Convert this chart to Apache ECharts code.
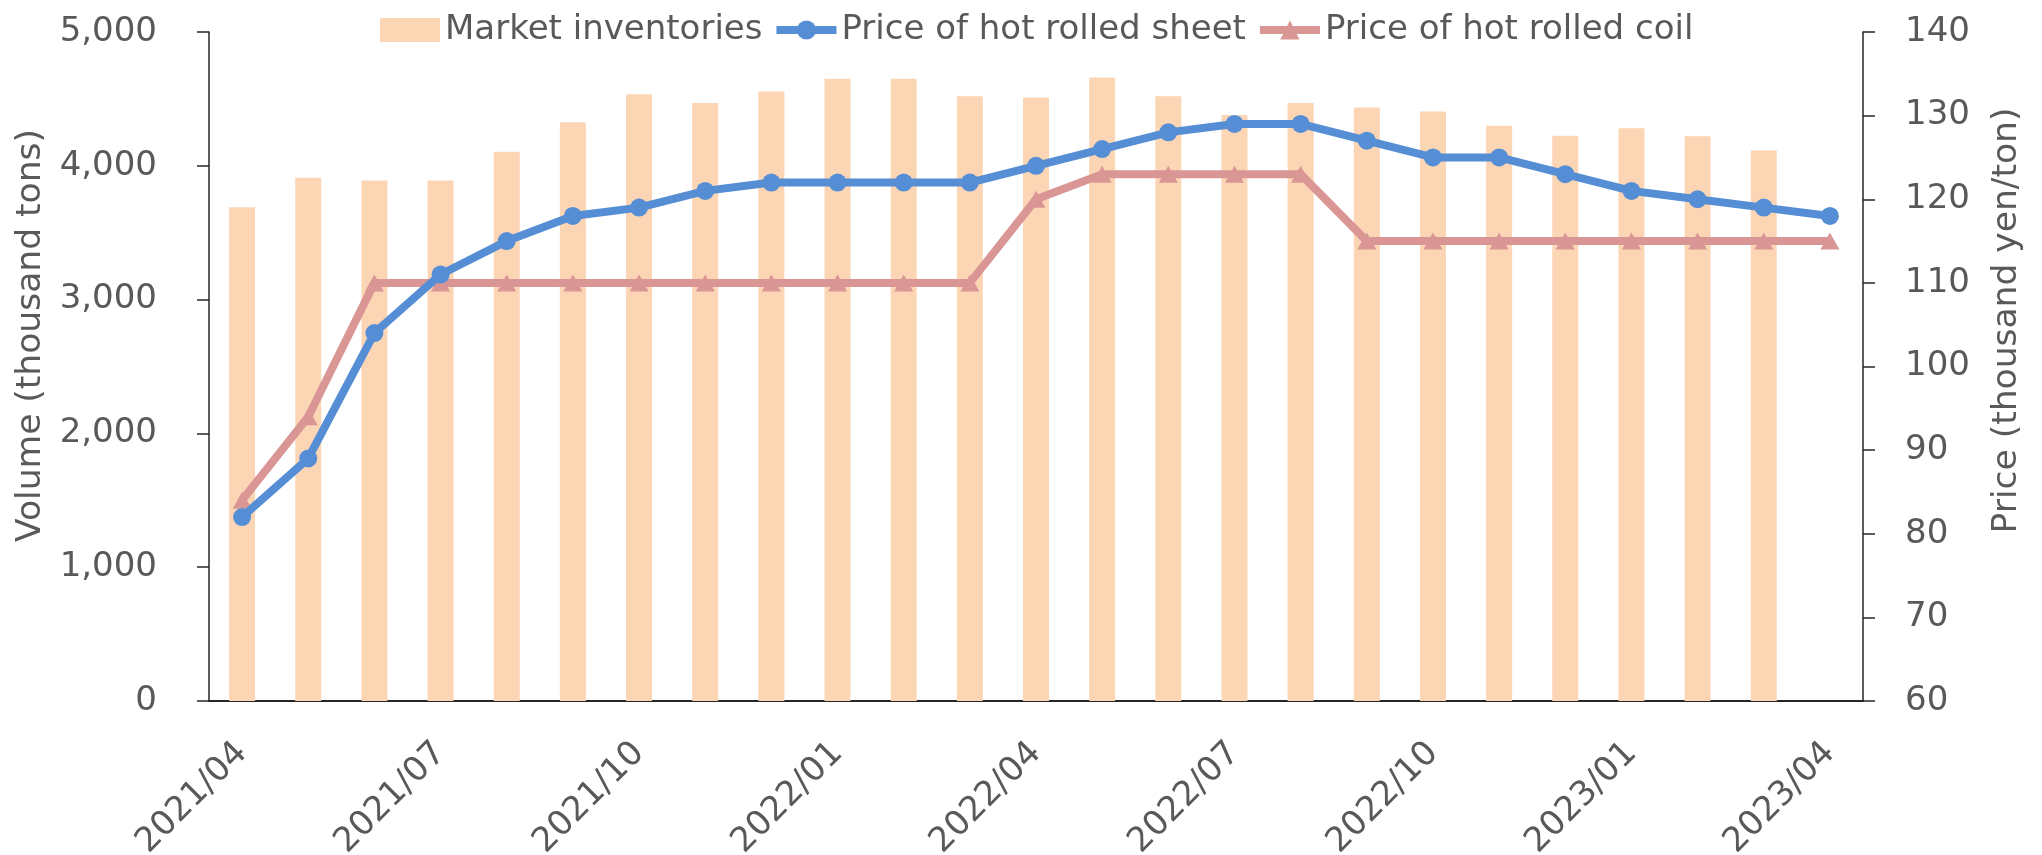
<!DOCTYPE html>
<html>
<head>
<meta charset="utf-8">
<script src="https://cdn.jsdelivr.net/npm/echarts@6/dist/echarts.min.js"></script>
<style>
html,body{margin:0;padding:0;background:#fff;}
#chart{width:2042px;height:855px;}
</style>
</head>
<body>
<div id="chart"></div>
<script>
const categories = ['2021/04','2021/05','2021/06','2021/07','2021/08','2021/09','2021/10','2021/11','2021/12',
  '2022/01','2022/02','2022/03','2022/04','2022/05','2022/06','2022/07','2022/08','2022/09','2022/10','2022/11','2022/12',
  '2023/01','2023/02','2023/03','2023/04'];
const inventories = [3690, 3910, 3890, 3890, 4105, 4325, 4535, 4470, 4555, 4650, 4650, 4520,
  4510, 4660, 4520, 4380, 4470, 4435, 4405, 4300, 4225, 4280, 4220, 4115, null];
const sheetPrice = [82, 89, 104, 111, 115, 118, 119, 121, 122, 122, 122, 122,
  124, 126, 128, 129, 129, 127, 125, 125, 123, 121, 120, 119, 118];
const coilPrice = [84, 94, 110, 110, 110, 110, 110, 110, 110, 110, 110, 110,
  120, 123, 123, 123, 123, 115, 115, 115, 115, 115, 115, 115, 115];
const leftTicks = {min: 0, max: 5000, interval: 1000};
const rightTicks = {min: 60, max: 140, interval: 10};

const FS = 34;
const NFS = 34.5;
const TXT = '#595959';
const AX = '#262626';
const chart = echarts.init(document.getElementById('chart'), null, {renderer: 'canvas'});
chart.setOption({
  animation: false,
  textStyle: {fontFamily: 'DejaVu Sans', color: TXT},
  grid: {left: 209, right: 179, top: 32, bottom: 154, containLabel: false, outerBoundsMode: 'none'},
  legend: {
    left: 375, top: 8, padding: 5,
    itemWidth: 60, itemHeight: 24, itemGap: 10,
    textStyle: {fontSize: FS, color: TXT, fontFamily: 'DejaVu Sans'},
    data: [
      {name: 'Market inventories', icon: 'rect'},
      {name: 'Price of hot rolled sheet', lineStyle: {width: 8}},
      {name: 'Price of hot rolled coil', lineStyle: {width: 8}}
    ]
  },
  xAxis: {
    type: 'category',
    data: categories,
    boundaryGap: true,
    axisLine: {lineStyle: {color: AX, width: 2}},
    axisTick: {interval: 2, length: 12, lineStyle: {color: AX, width: 1.5}},
    axisLabel: {interval: 2, rotate: 45, margin: 47, fontSize: FS, color: TXT},
    splitLine: {show: false}
  },
  yAxis: [
    {
      type: 'value', position: 'left',
      min: leftTicks.min, max: leftTicks.max, interval: leftTicks.interval,
      name: 'Volume (thousand tons)', nameLocation: 'middle', nameGap: 160, nameRotate: 90,
      nameTextStyle: {fontSize: NFS, color: TXT, padding: [0, 0, 0, 62]},
      axisLine: {show: true, lineStyle: {color: AX, width: 1.5}},
      axisTick: {show: true, length: 12, lineStyle: {color: AX, width: 1.5}},
      axisLabel: {margin: 52, fontSize: FS, color: TXT, padding: [0, 0, 13, 0],
        formatter: v => v.toLocaleString('en-US')},
      splitLine: {show: false}
    },
    {
      type: 'value', position: 'right',
      min: rightTicks.min, max: rightTicks.max, interval: rightTicks.interval,
      name: 'Price (thousand yen/ton)', nameLocation: 'middle', nameGap: 127, nameRotate: 90,
      nameTextStyle: {fontSize: NFS, color: TXT, padding: [0, 0, 0, 92]},
      axisLine: {show: true, lineStyle: {color: AX, width: 1.5}},
      axisTick: {show: true, length: 12, lineStyle: {color: AX, width: 1.5}},
      axisLabel: {margin: 42, fontSize: FS, color: TXT, padding: [0, 0, 13, 0]},
      splitLine: {show: false}
    }
  ],
  series: [
    {
      name: 'Market inventories', type: 'bar', yAxisIndex: 0,
      data: inventories, barWidth: 26,
      itemStyle: {color: '#FCD5B5'}, z: 1
    },
    {
      name: 'Price of hot rolled sheet', type: 'line', yAxisIndex: 1,
      data: sheetPrice, symbol: 'circle', symbolSize: 18,
      lineStyle: {color: '#558ED5', width: 8},
      itemStyle: {color: '#558ED5'}, z: 4
    },
    {
      name: 'Price of hot rolled coil', type: 'line', yAxisIndex: 1,
      data: coilPrice, symbol: 'triangle', symbolSize: [19, 17],
      lineStyle: {color: '#D99694', width: 8},
      itemStyle: {color: '#D99694'}, z: 3
    }
  ]
});
</script>
</body>
</html>
